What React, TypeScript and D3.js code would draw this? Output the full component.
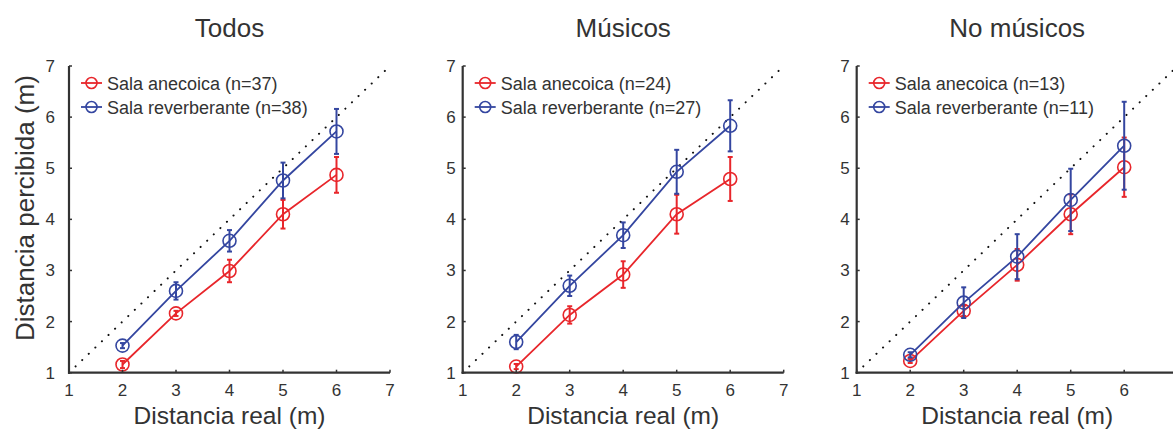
import * as d3 from 'd3';
import React from 'react';

// distances (m)
const distances = [2, 3, 4, 5, 6];
const ticks = [1, 2, 3, 4, 5, 6, 7];

const panelTitles = ['Todos', 'Músicos', 'No músicos'];
const anecoicaLabels = ['Sala anecoica (n=37)', 'Sala anecoica (n=24)', 'Sala anecoica (n=13)'];
const reverbLabels = ['Sala reverberante (n=38)', 'Sala reverberante (n=27)', 'Sala reverberante (n=11)'];

// perceived distance means and error half-widths
const anecoicaMean = [
  [1.16, 2.16, 2.99, 4.10, 4.87],
  [1.12, 2.13, 2.92, 4.10, 4.79],
  [1.23, 2.21, 3.11, 4.10, 5.02],
];
const anecoicaErr = [
  [0.07, 0.05, 0.22, 0.28, 0.35],
  [0.05, 0.17, 0.26, 0.38, 0.43],
  [0.04, 0.1, 0.31, 0.39, 0.58],
];
const reverbMean = [
  [1.53, 2.60, 3.58, 4.76, 5.72],
  [1.60, 2.70, 3.69, 4.93, 5.83],
  [1.35, 2.37, 3.27, 4.38, 5.44],
];
const reverbErr = [
  [0.05, 0.17, 0.21, 0.35, 0.44],
  [0.14, 0.2, 0.25, 0.43, 0.5],
  [0.05, 0.3, 0.44, 0.61, 0.86],
];

const RED = '#e8262b';
const BLUE = '#3446a0';
const INK = '#333';
const FONT = 'Liberation Sans, Arial, sans-serif';

const W = 1173;
const H = 438;
const panelLeft = [69, 462.7, 856.7];
const tickGap = [14, 7, 7];
const plotW = 321;
const yTop = 66;
const yBottom = 372.7;

function Series({ x, y, means, errs, color }) {
  const pts = distances.map((d, i) => ({ d, v: means[i], e: errs[i] }));
  const line = d3.line<any>().x((p) => x(p.d)).y((p) => y(p.v));
  return (
    <g>
      <path d={line(pts) || ''} fill="none" stroke={color} strokeWidth={1.8} />
      {pts.map((p, i) => (
        <g key={i} stroke={color} fill="none">
          <line x1={x(p.d)} x2={x(p.d)} y1={y(p.v - p.e)} y2={y(p.v + p.e)} strokeWidth={2} />
          <line x1={x(p.d) - 2.5} x2={x(p.d) + 2.5} y1={y(p.v - p.e)} y2={y(p.v - p.e)} strokeWidth={2} />
          <line x1={x(p.d) - 2.5} x2={x(p.d) + 2.5} y1={y(p.v + p.e)} y2={y(p.v + p.e)} strokeWidth={2} />
          <circle cx={x(p.d)} cy={y(p.v)} r={6.5} strokeWidth={1.6} />
        </g>
      ))}
    </g>
  );
}

function Panel({ idx }) {
  const x0 = panelLeft[idx];
  const x = d3.scaleLinear().domain([1, 7]).range([x0, x0 + plotW]);
  const y = d3.scaleLinear().domain([1, 7]).range([yBottom, yTop]);
  const cx = x(4);
  return (
    <g>
      <text x={cx} y={37} textAnchor="middle" fontSize={26} fill={INK} fontFamily={FONT}>
        {panelTitles[idx]}
      </text>
      {/* identity line */}
      <line
        x1={x(1)} y1={y(1)} x2={x(7)} y2={y(7)}
        stroke="#111" strokeWidth={2} strokeLinecap="round" strokeDasharray="0.1 9"
      />
      <Series x={x} y={y} means={anecoicaMean[idx]} errs={anecoicaErr[idx]} color={RED} />
      <Series x={x} y={y} means={reverbMean[idx]} errs={reverbErr[idx]} color={BLUE} />
      {/* axes */}
      <line x1={x(1)} x2={x(1)} y1={y(7)} y2={y(1) + 1} stroke={INK} strokeWidth={2.2} />
      <line x1={x(1) - 1} x2={x(7)} y1={y(1)} y2={y(1)} stroke={INK} strokeWidth={2.2} />
      {ticks.map((t) => (
        <g key={t} fontFamily={FONT} fontSize={17} fill={INK}>
          <line x1={x(t)} x2={x(t)} y1={y(1)} y2={y(1) - 3} stroke={INK} strokeWidth={1.5} />
          <line x1={x(1)} x2={x(1) + 3} y1={y(t)} y2={y(t)} stroke={INK} strokeWidth={1.5} />
          <text x={x(t)} y={y(1) + 23} textAnchor="middle">{t}</text>
          <text x={x(1) - tickGap[idx]} y={y(t) + 6} textAnchor="end">{t}</text>
        </g>
      ))}
      <text x={cx} y={424} textAnchor="middle" fontSize={24.5} fill={INK} fontFamily={FONT}>
        Distancia real (m)
      </text>
      {/* legend */}
      {[
        { label: anecoicaLabels[idx], color: RED, yy: 83 },
        { label: reverbLabels[idx], color: BLUE, yy: 107 },
      ].map((l) => (
        <g key={l.label}>
          <line x1={x0 + 12} x2={x0 + 33} y1={l.yy} y2={l.yy} stroke={l.color} strokeWidth={1.8} />
          <circle cx={x0 + 22.5} cy={l.yy} r={5.5} fill="none" stroke={l.color} strokeWidth={1.6} />
          <text x={x0 + 38} y={l.yy + 6.5} fontSize={18} fill={INK} fontFamily={FONT}>
            {l.label}
          </text>
        </g>
      ))}
    </g>
  );
}

export default function App() {
  return (
    <svg
      width={W}
      height={H}
      viewBox={`0 0 ${W} ${H}`}
      style={{ position: 'absolute', left: 0, top: 0, background: '#fff' }}
    >
      {panelTitles.map((_, i) => (
        <Panel key={i} idx={i} />
      ))}
      <text
        transform={`translate(34,208) rotate(-90)`}
        textAnchor="middle"
        fontSize={26}
        fill={INK}
        fontFamily={FONT}
      >
        Distancia percibida (m)
      </text>
    </svg>
  );
}
